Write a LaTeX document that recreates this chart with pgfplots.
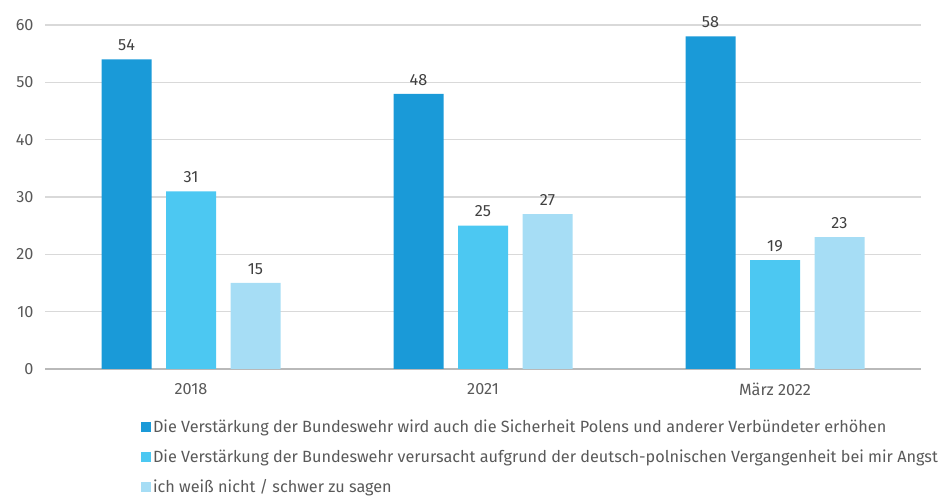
\documentclass[border=0pt]{standalone}
\usepackage{pgfplots}
\pgfplotsset{compat=1.18}
\usepackage{fontspec}
\setmainfont{Fira Sans}
\definecolor{cdark}{HTML}{1A9AD8}
\definecolor{cmid}{HTML}{4CC8F2}
\definecolor{clight}{HTML}{A6DDF5}
\definecolor{txtgray}{HTML}{595959}
\definecolor{gridgray}{HTML}{D9D9D9}
\begin{document}
\begin{tikzpicture}[x=1bp,y=1bp]
  \useasboundingbox (0,0) rectangle (942,496);
  \begin{axis}[
      at={(45bp,127bp)}, anchor=south west,
      scale only axis,
      width=876bp, height=344bp,
      ybar=14.5bp,
      bar width=50bp,
      xmin=-0.5, xmax=2.5,
      ymin=0, ymax=60,
      ytick={0,10,...,60},
      xtick={0,1,2},
      xticklabels={2018, 2021, März 2022},
      axis x line*=bottom,
      axis y line*=left,
      x axis line style={draw=gray!55, line width=1.4pt},
      y axis line style={draw=none},
      ymajorgrids,
      grid style={gridgray, line width=1.4pt},
      major tick length=0pt,
      tick label style={font=\fontsize{16.3}{19}\selectfont, text=txtgray},
      yticklabel style={xshift=-8bp},
      xticklabel style={yshift=-11bp},
      /pgf/number format/assume math mode=true,
      nodes near coords,
      every node near coord/.append style={font=\fontsize{16.3}{19}\selectfont, text=black!75, yshift=5bp},
      legend style={at={(0.1096,-0.141)}, anchor=north west, draw=none, fill=none,
        font=\fontsize{16.3}{19}\selectfont, text=txtgray, row sep=12bp,
        inner sep=0pt, outer sep=0pt},
      legend cell align=left,
      legend image code/.code={\fill[#1] (0bp,-5bp) rectangle (10bp,5bp);},
    ]
    \addplot[fill=cdark, draw=none] coordinates {(0,54) (1,48) (2,58)};
    \addplot[fill=cmid, draw=none] coordinates {(0,31) (1,25) (2,19)};
    \addplot[fill=clight, draw=none] coordinates {(0,15) (1,27) (2,23)};
    \legend{Die Verstärkung der Bundeswehr wird auch die Sicherheit Polens und anderer Verbündeter erhöhen,
      Die Verstärkung der Bundeswehr verursacht aufgrund der deutsch-polnischen Vergangenheit bei mir Angst,
      ich weiß nicht / schwer zu sagen}
  \end{axis}
\end{tikzpicture}
\end{document}
